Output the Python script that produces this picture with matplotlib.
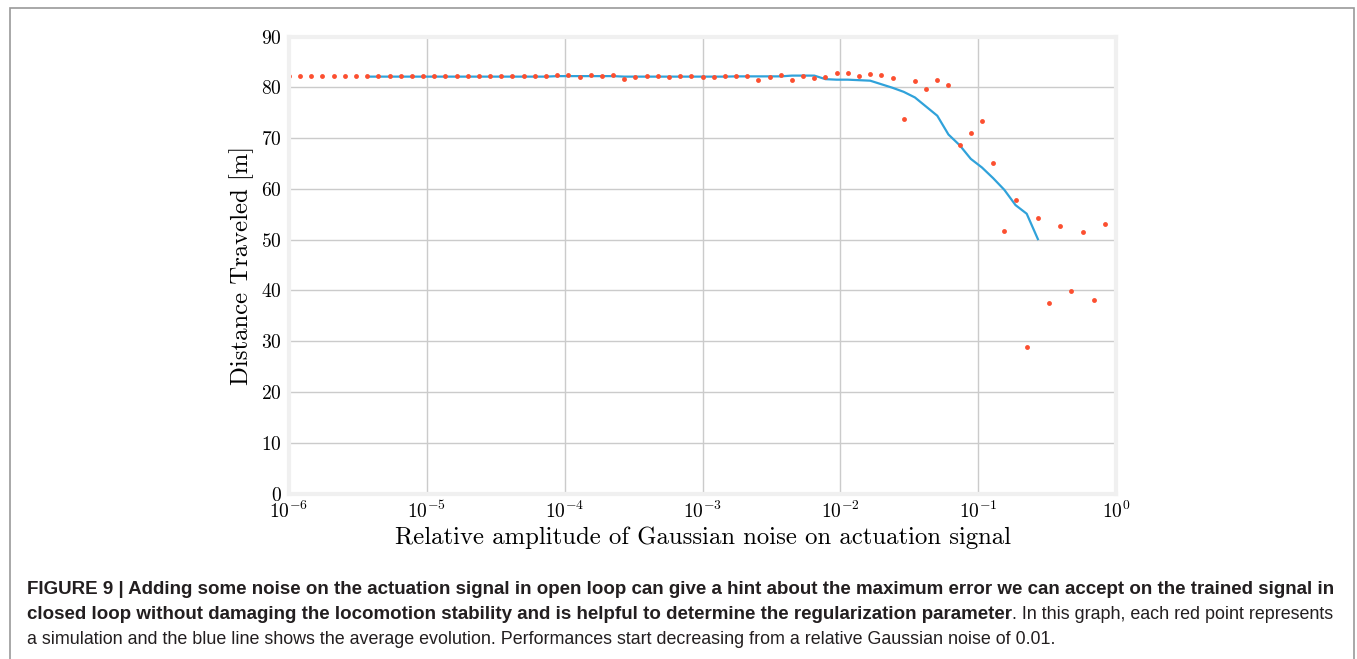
import numpy as np
import matplotlib.pyplot as plt
from matplotlib.patches import Rectangle

# noise amplitudes: 75 simulations, log spaced between 1e-6 and 1
noise = np.logspace(-6, 0, 75)

# distance traveled for each simulation (red points)
distance = [82.2] * 24 + [
    82.4, 82.35, 82.1, 82.4, 82.2, 82.4, 81.6, 82.1, 82.2, 82.3,
    82.0, 82.3, 82.2, 82.0, 82.1, 82.3, 82.3, 82.2, 81.4, 82.0,
    82.4, 81.4, 82.2, 81.8, 82.0, 82.8, 82.9, 82.3, 82.7, 82.5,
    81.8, 73.8, 81.3, 79.7, 81.5, 80.5, 68.7, 71.0, 73.3, 65.0,
    51.7, 57.9, 28.8, 54.2, 37.5, 52.7, 39.9, 51.6, 38.2, 53.1,
    5.8,
]

# average evolution (blue line), defined from index 7 to 67
avg_start, avg_stop = 7, 68
average = [82.1] * 17 + [82.2] * 6 + [82.1] * 10 + [
    82.15, 82.15, 82.15, 82.15, 82.15, 82.3, 82.3, 82.3,
    81.6, 81.5, 81.5, 81.4, 81.3, 80.6, 79.9, 79.1, 78.0, 76.2,
    74.4, 70.7, 68.6, 65.9, 64.2, 62.1, 59.8, 56.8, 55.1, 50.1,
]

caption_1 = ('FIGURE 9 | Adding some noise on the actuation signal in open loop can give a hint '
             'about the maximum error we can accept on the trained signal in')
caption_2b = ('closed loop without damaging the locomotion stability and is helpful to '
              'determine the regularization parameter')
caption_2r = '. In this graph, each red point represents'
caption_3 = ('a simulation and the blue line shows the average evolution. Performances start '
             'decreasing from a relative Gaussian noise of 0.01.')

plt.rcParams['font.family'] = 'serif'
plt.rcParams['font.serif'] = ['cmr10']
plt.rcParams['mathtext.fontset'] = 'cm'
plt.rcParams['axes.formatter.use_mathtext'] = True

fig = plt.figure(figsize=(13.57, 6.59), dpi=100)
ax = fig.add_axes([0.2129, 0.2511, 0.6096, 0.6935])

ax.plot(noise[avg_start:avg_stop], average, color='#30a2da', lw=1.6, zorder=2)
ax.plot(noise, distance, 'o', color='#fc4f30', ms=3.5, mew=0, zorder=2.2)

ax.set_xscale('log')
ax.set_xlim(1e-6, 1)
ax.set_ylim(0, 90)
ax.set_yticks(range(0, 91, 10))
ax.xaxis.set_minor_locator(plt.NullLocator())
ax.grid(True, color='#cbcbcb', lw=1.0)
ax.set_axisbelow(True)
ax.tick_params(length=0, labelsize=14, pad=5)
for s in ax.spines.values():
    s.set_color('#f0f0f0')
    s.set_linewidth(3)

ax.set_xlabel('Relative amplitude of Gaussian noise on actuation signal', fontsize=17.8, labelpad=3)
ax.set_ylabel('Distance Traveled [m]', fontsize=17.8, labelpad=5)

# outer frame of the figure panel
fig.patches.append(Rectangle((10 / 1357, -0.1), 1344 / 1357, 1.1 - 8 / 659,
                             transform=fig.transFigure, fill=False,
                             edgecolor='#999999', lw=1.2))

# caption
W, H = 1357, 659
cap = dict(family='Liberation Sans', color='#231f20', va='baseline')
fig.text(27 / W, 1 - 594 / H, caption_1, weight='bold', fontsize=13.5, **cap)
t = fig.text(27 / W, 1 - 619 / H, caption_2b, weight='bold', fontsize=13.5, **cap)
renderer = fig.canvas.get_renderer()
bb = t.get_window_extent(renderer)
fig.text(bb.x1 / W, 1 - 619 / H, caption_2r, fontsize=12.9, **cap)
fig.text(27 / W, 1 - 644.5 / H, caption_3, fontsize=12.9, **cap)

fig.savefig('out.png', dpi=100)
